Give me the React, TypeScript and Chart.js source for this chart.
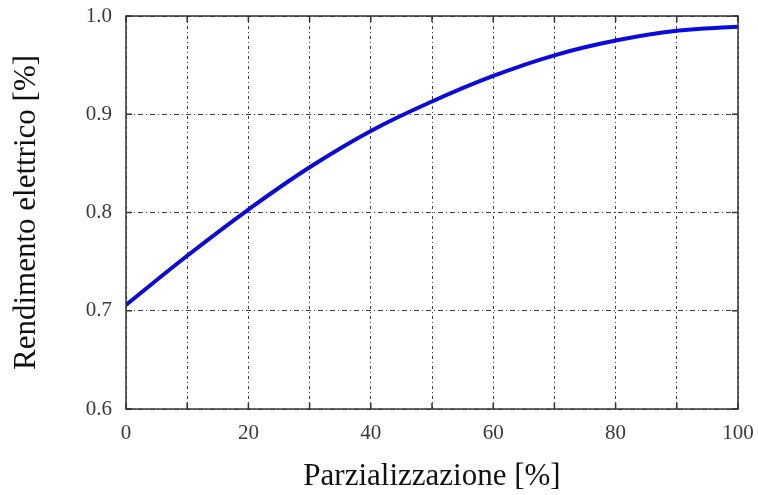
import React, { useEffect, useRef } from "react";
import { Chart, registerables } from "chart.js";

Chart.register(...registerables);

// Partial load [%] and electrical efficiency
const loadPercent = [0, 10, 20, 30, 40, 50, 60, 70, 80, 90, 100];
const efficiency = [0.706, 0.756, 0.803, 0.846, 0.883, 0.913, 0.939, 0.960, 0.975, 0.985, 0.989];

const xTitle = "Parzializzazione [%]";
const yTitle = "Rendimento elettrico [%]";

const FONT = "'Liberation Serif', 'DejaVu Serif', serif";

// Plot frame plus short inward tick marks on all four sides
const framePlugin = {
  id: "frame",
  afterDraw(chart: any) {
    const { ctx, chartArea: a, scales } = chart;
    const len = 6;
    ctx.save();
    ctx.strokeStyle = "#333";
    ctx.lineWidth = 1.5;
    ctx.setLineDash([]);
    ctx.beginPath();
    for (const t of scales.x.ticks) {
      const px = scales.x.getPixelForValue(t.value);
      ctx.moveTo(px, a.bottom);
      ctx.lineTo(px, a.bottom - len);
      ctx.moveTo(px, a.top);
      ctx.lineTo(px, a.top + len);
    }
    for (const t of scales.y.ticks) {
      const py = scales.y.getPixelForValue(t.value);
      ctx.moveTo(a.left, py);
      ctx.lineTo(a.left + len, py);
      ctx.moveTo(a.right, py);
      ctx.lineTo(a.right - len, py);
    }
    ctx.stroke();
    ctx.strokeRect(a.left, a.top, a.right - a.left, a.bottom - a.top);
    ctx.restore();
  },
};

export default function App() {
  const ref = useRef<HTMLCanvasElement>(null);

  useEffect(() => {
    if (!ref.current) return;
    const chart = new Chart(ref.current, {
      type: "line",
      data: {
        datasets: [
          {
            data: loadPercent.map((x, i) => ({ x, y: efficiency[i] })),
            borderColor: "#0a0ade",
            borderWidth: 4,
            pointRadius: 0,
            tension: 0.4,
            fill: false,
          },
        ],
      },
      options: {
        responsive: false,
        animation: false,
        layout: { padding: { top: 16, right: 20, left: 0, bottom: 0 } },
        plugins: { legend: { display: false }, tooltip: { enabled: false } },
        scales: {
          x: {
            type: "linear",
            min: 0,
            max: 100,
            afterFit: (s: any) => {
              s.height = 86;
              s.paddingLeft = 0;
              s.paddingRight = 0;
            },
            ticks: {
              stepSize: 10,
              autoSkip: false,
              maxRotation: 0,
              padding: 12,
              color: "#3a3a3a",
              font: { family: FONT, size: 21 },
              callback: (v: any) => (Number(v) % 20 === 0 ? String(v) : ""),
            },
            grid: {
              color: "#3c3c3c",
              lineWidth: 1,
              drawTicks: false,
            },
            border: { display: false, dash: [3, 3, 1, 3] },
            title: {
              display: true,
              text: xTitle,
              color: "#111",
              font: { family: FONT, size: 31 },
              padding: { top: 0, bottom: 0 },
            },
          },
          y: {
            min: 0.6,
            max: 1.0,
            afterFit: (s: any) => {
              s.width = 126;
              s.paddingTop = 0;
              s.paddingBottom = 0;
            },
            ticks: {
              stepSize: 0.1,
              padding: 14,
              color: "#3a3a3a",
              font: { family: FONT, size: 21 },
              callback: (v: any) => Number(v).toFixed(1),
            },
            grid: {
              color: "#3c3c3c",
              lineWidth: 1,
              drawTicks: false,
            },
            border: { display: false, dash: [5, 3, 1, 3] },
            title: {
              display: true,
              text: yTitle,
              color: "#111",
              font: { family: FONT, size: 31 },
              padding: { top: 8, bottom: 0 },
            },
          },
        },
      },
      plugins: [framePlugin],
    });
    return () => chart.destroy();
  }, []);

  return (
    <div style={{ position: "absolute", left: 0, top: 0, width: 758, height: 495, background: "#fff" }}>
      <canvas ref={ref} width={758} height={495} />
    </div>
  );
}
